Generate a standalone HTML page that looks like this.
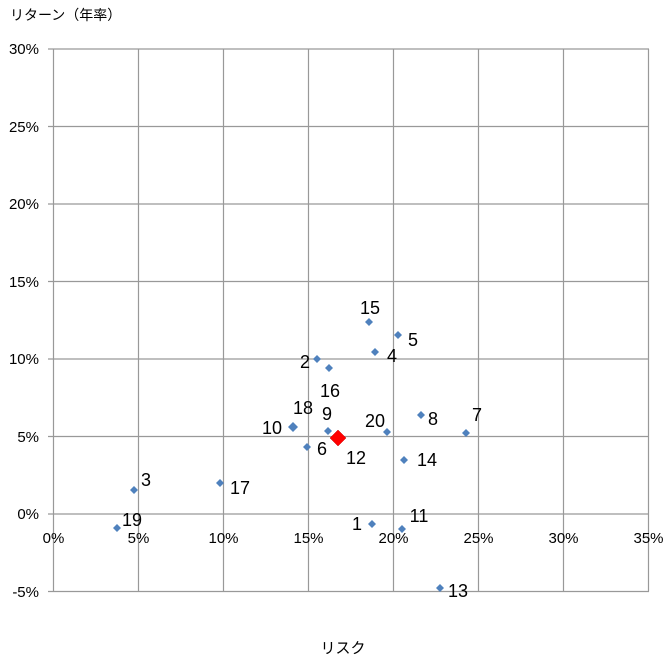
<!DOCTYPE html>
<html><head><meta charset="utf-8"><style>
body{margin:0;background:#fff}
svg text{font-family:"Liberation Sans","Noto Sans CJK JP",sans-serif;fill:#000}
</style></head><body>
<svg width="671" height="666" viewBox="0 0 671 666" xmlns="http://www.w3.org/2000/svg">
<rect width="671" height="666" fill="#fff"/>
<g stroke="#999" stroke-width="1.2">
<line x1="48" y1="49" x2="649" y2="49"/>
<line x1="48" y1="126.5" x2="649" y2="126.5"/>
<line x1="48" y1="204" x2="649" y2="204"/>
<line x1="48" y1="281.5" x2="649" y2="281.5"/>
<line x1="48" y1="359" x2="649" y2="359"/>
<line x1="48" y1="436.5" x2="649" y2="436.5"/>
<line x1="48" y1="514" x2="649" y2="514"/>
<line x1="48" y1="591.5" x2="649" y2="591.5"/>
<line x1="53.5" y1="49" x2="53.5" y2="591.5"/>
<line x1="138.5" y1="49" x2="138.5" y2="591.5"/>
<line x1="223.5" y1="49" x2="223.5" y2="591.5"/>
<line x1="308.5" y1="49" x2="308.5" y2="591.5"/>
<line x1="393.5" y1="49" x2="393.5" y2="591.5"/>
<line x1="478.5" y1="49" x2="478.5" y2="591.5"/>
<line x1="563.5" y1="49" x2="563.5" y2="591.5"/>
<line x1="648.5" y1="49" x2="648.5" y2="591.5"/>
</g>
<g font-size="15" text-anchor="end">
<text x="39" y="54">30%</text><text x="39" y="132">25%</text><text x="39" y="209">20%</text>
<text x="39" y="287">15%</text><text x="39" y="364">10%</text><text x="39" y="442">5%</text>
<text x="39" y="519">0%</text><text x="39" y="597">-5%</text>
</g>
<g font-size="15" text-anchor="middle">
<text x="53.5" y="543">0%</text><text x="138.5" y="543">5%</text><text x="223.5" y="543">10%</text>
<text x="308.5" y="543">15%</text><text x="393.5" y="543">20%</text><text x="478.5" y="543">25%</text>
<text x="563.5" y="543">30%</text><text x="648.5" y="543">35%</text>
</g>
<text x="10" y="20" font-size="14">リターン（年率）</text>
<text x="343" y="653" font-size="15" text-anchor="middle">リスク</text>
<g fill="#4f81bd">
<path d="M369 318l4 4-4 4-4-4z"/><path d="M398 331l4 4-4 4-4-4z"/><path d="M375 348l4 4-4 4-4-4z"/>
<path d="M317 355l4 4-4 4-4-4z"/><path d="M329 364l4 4-4 4-4-4z"/><path d="M293 422l5 5-5 5-5-5z"/>
<path d="M328 427l4 4-4 4-4-4z"/><path d="M307 443l4 4-4 4-4-4z"/><path d="M387 428l4 4-4 4-4-4z"/>
<path d="M421 411l4 4-4 4-4-4z"/><path d="M466 429l4 4-4 4-4-4z"/><path d="M404 456l4 4-4 4-4-4z"/>
<path d="M134 486l4 4-4 4-4-4z"/><path d="M220 479l4 4-4 4-4-4z"/><path d="M117 524l4 4-4 4-4-4z"/>
<path d="M372 520l4 4-4 4-4-4z"/><path d="M402 525l4 4-4 4-4-4z"/><path d="M440 584l4 4-4 4-4-4z"/>
</g>
<path d="M338 430l8 8-8 8-8-8z" fill="#f00" stroke="#c00" stroke-width="0.5"/>
<g font-size="18" text-anchor="middle">
<text x="370" y="314">15</text><text x="413" y="346">5</text><text x="392" y="362">4</text>
<text x="305" y="368">2</text><text x="330" y="397">16</text><text x="303" y="414">18</text>
<text x="272" y="434">10</text><text x="327" y="420">9</text><text x="322" y="455">6</text>
<text x="356" y="464">12</text><text x="375" y="427">20</text><text x="433" y="425">8</text>
<text x="477" y="421">7</text><text x="427" y="466">14</text><text x="146" y="486">3</text>
<text x="240" y="494">17</text><text x="132" y="526">19</text><text x="357" y="530">1</text>
<text x="419" y="522">11</text><text x="458" y="597">13</text>
</g>
</svg>
</body></html>
